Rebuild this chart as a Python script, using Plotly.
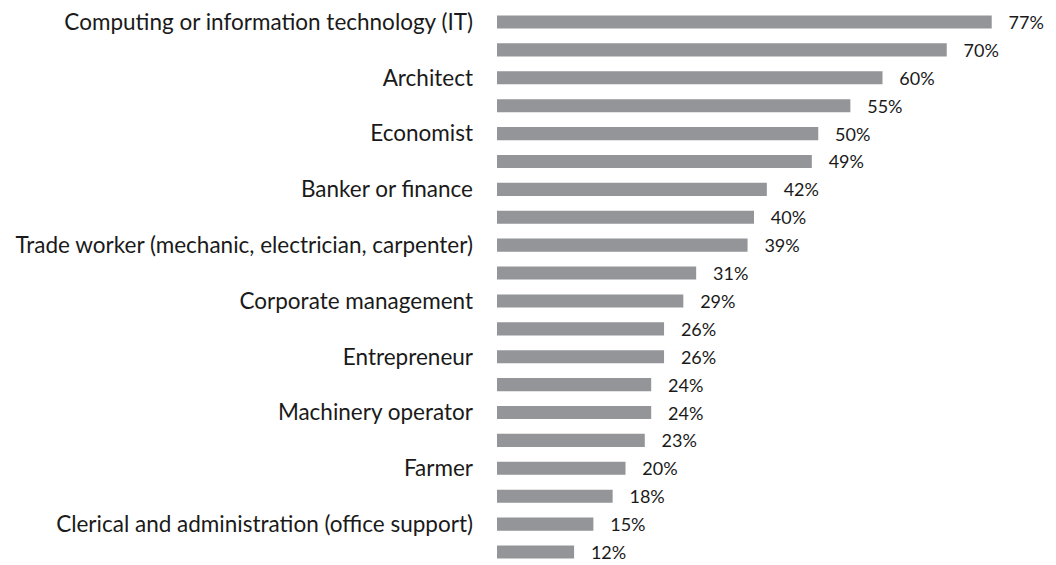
import plotly.graph_objects as go

values = [77, 70, 60, 55, 50, 49, 42, 40, 39, 31, 29, 26, 26, 24, 24, 23, 20, 18, 15, 12]
labels = [
    "Computing or information technology (IT)", "",
    "Architect", "",
    "Economist", "",
    "Banker or finance", "",
    "Trade worker (mechanic, electrician, carpenter)", "",
    "Corporate management", "",
    "Entrepreneur", "",
    "Machinery operator", "",
    "Farmer", "",
    "Clerical and administration (office support)", "",
]
positions = list(range(len(values)))

fig = go.Figure(go.Bar(
    x=values, y=positions, orientation="h",
    marker=dict(color="#939598", line=dict(width=0)),
    width=0.47,
    text=[f"   {v}%" for v in values],
    textposition="outside", cliponaxis=False, constraintext="none",
    textfont=dict(size=18, color="#1a1a1a", family="Lato"),
))
fig.update_layout(
    width=1056, height=565,
    margin=dict(l=489, r=53, t=0, b=0, autoexpand=False),
    plot_bgcolor="white", paper_bgcolor="white",
    showlegend=False,
    font=dict(family="Lato", size=22.5, color="#1a1a1a"),
    xaxis=dict(range=[0, 80], visible=False, automargin=False),
    yaxis=dict(range=[19.753, -0.502], tickvals=positions, ticktext=labels,
               showgrid=False, zeroline=False, showline=False, ticks="",
               ticklabelstandoff=23, automargin=False,
               ticklabeloverflow="allow"),
)
fig.write_html("out.html")
